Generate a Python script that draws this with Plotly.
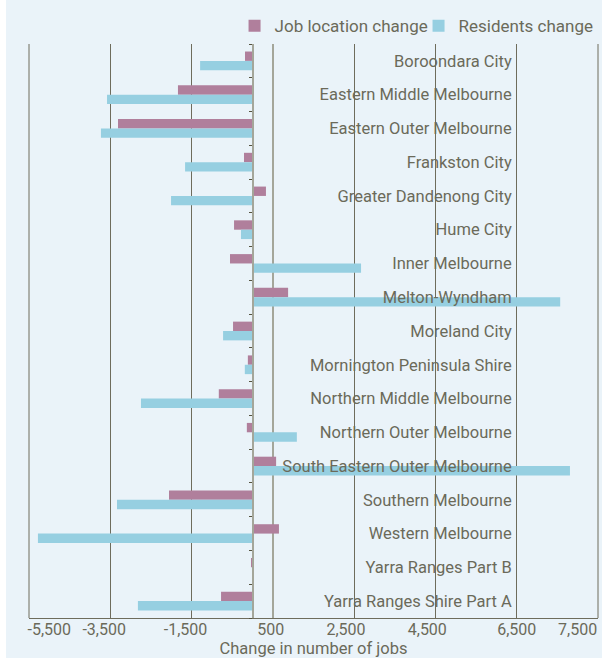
import plotly.graph_objects as go

categories = [
    "Boroondara City", "Eastern Middle Melbourne", "Eastern Outer Melbourne",
    "Frankston City", "Greater Dandenong City", "Hume City", "Inner Melbourne",
    "Melton-Wyndham", "Moreland City", "Mornington Peninsula Shire",
    "Northern Middle Melbourne", "Northern Outer Melbourne",
    "South Eastern Outer Melbourne", "Southern Melbourne", "Western Melbourne",
    "Yarra Ranges Part B", "Yarra Ranges Shire Part A",
]
job_change = [-185, -1835, -3310, -210, 330, -455, -555, 875, -480, -115,
              -830, -140, 580, -2055, 650, -20, -775]
resident_change = [-1290, -3580, -3730, -1660, -2005, -285, 2670, 7570, -725, -190,
                   -2745, 1090, 7810, -3335, -5280, -10, -2820]

x_min, x_max = -5500, 8500
grid_vals = [-5500, -3500, -1500, 2500, 4500, 6500, 8500]
light_grid_vals = [500]
tick_label_vals = [-5000, -3650, -1650, 450, 2300, 4300, 6500, 8000]
tick_label_text = ["-5,500", "-3,500", "-1,500", "500", "2,500", "4,500", "6,500", "7,500"]

TXT = "#6b6a5a"
BG = "#eaf3f9"
GRID = "#6e6c5c"
LIGHT = "#a4a69a"
FONT = "Roboto"

fig = go.Figure()
fig.add_trace(go.Bar(y=categories, x=job_change, orientation="h",
                     name="Job location change", marker_color="#b07f9c",
                     marker_line_width=0))
fig.add_trace(go.Bar(y=categories, x=resident_change, orientation="h",
                     name="Residents change", marker_color="#96cfe1",
                     marker_line_width=0))

n = len(categories)
zero_pos = (0 - x_min) / (x_max - x_min)
label_pos = (6500 - x_min) / (x_max - x_min)

# invisible helper trace so the overlay axes are drawn
fig.add_trace(go.Scatter(x=[x_min], y=[0], xaxis="x2", yaxis="y2", mode="markers",
                         marker=dict(opacity=0), showlegend=False, hoverinfo="skip"))

fig.update_layout(
    width=602, height=658,
    margin=dict(l=29, r=4, t=44, b=40, autoexpand=False),
    paper_bgcolor=BG, plot_bgcolor=BG,
    font=dict(family=FONT, size=16, color=TXT),
    barmode="group", bargap=0.445, bargroupgap=0,
    showlegend=True,
    legend=dict(orientation="h", x=1.008, xanchor="right", y=1.031, yanchor="middle",
                font=dict(size=17, color=TXT), bgcolor="rgba(0,0,0,0)",
                itemwidth=30, tracegroupgap=0, entrywidth=139),
    xaxis=dict(range=[x_min, x_max], tickmode="array", tickvals=grid_vals,
               showgrid=True, gridcolor=GRID, gridwidth=1,
               minor=dict(tickmode="array", tickvals=light_grid_vals, showgrid=True,
                          gridcolor=LIGHT, gridwidth=2, ticks=""),
               showticklabels=False, ticks="", zeroline=False,
               showline=True, linecolor=GRID, linewidth=1, mirror=False),
    xaxis2=dict(overlaying="x", matches="x", side="bottom", anchor="y",
                tickmode="array", tickvals=tick_label_vals, ticktext=tick_label_text,
                showgrid=False, zeroline=False, ticks="", showline=False,
                tickfont=dict(size=16, color=TXT),
                title=dict(text="Change in number of jobs", standoff=0,
                           font=dict(size=16.5, color=TXT))),
    yaxis=dict(type="category", autorange="reversed",
               anchor="free", position=label_pos, side="left",
               showgrid=False, zeroline=False, showline=False, ticks="",
               tickfont=dict(size=16.5, color=TXT), ticklabelstandoff=5),
    yaxis2=dict(overlaying="y", anchor="free", position=zero_pos, side="left",
                range=[n - 0.5, -0.5], tickmode="array",
                tickvals=[i - 0.5 for i in range(n + 1)],
                showticklabels=False, ticks="outside", ticklen=3,
                tickcolor="#55533f", tickwidth=1,
                showline=True, linecolor=LIGHT, linewidth=2,
                showgrid=False, zeroline=False),
    shapes=[
        dict(type="rect", xref="paper", yref="paper",
             x0=-29 / 569, x1=-23 / 569, y0=-1, y1=2,
             fillcolor="white", line_width=0, layer="below"),
        dict(type="line", xref="paper", yref="paper", x0=0, x1=0, y0=0, y1=1,
             line=dict(color=GRID, width=1), layer="below"),
        dict(type="line", xref="paper", yref="paper", x0=1, x1=1, y0=0, y1=1,
             line=dict(color=GRID, width=1), layer="below"),
    ],
)

fig.write_html("out.html", config={"displayModeBar": False},
               post_script="document.body.style.margin='0';document.body.style.padding='0';")
